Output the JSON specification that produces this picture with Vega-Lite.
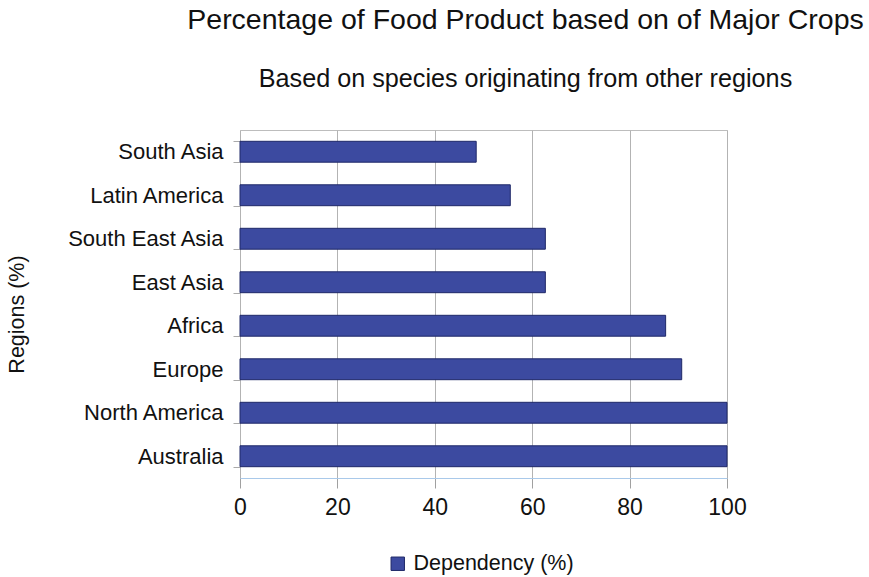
{
  "$schema": "https://vega.github.io/schema/vega-lite/v6.json",
  "width": 487,
  "height": 348,
  "autosize": "none",
  "padding": {"left": 240, "top": 130, "right": 142, "bottom": 99},
  "background": "white",
  "config": {
    "font": "Liberation Sans",
    "view": {"stroke": "#bdbdbd", "strokeWidth": 1}
  },
  "title": {
    "text": "Percentage of Food Product based on of Major Crops",
    "subtitle": "Based on species originating from other regions",
    "anchor": "middle",
    "dx": 42,
    "fontSize": 28.5,
    "fontWeight": "normal",
    "color": "#111",
    "subtitleFontSize": 25.2,
    "subtitleColor": "#111",
    "subtitlePadding": 32,
    "offset": 27
  },
  "data": {
    "values": [
      {"region": "South Asia", "value": 48.5, "series": "Dependency (%)"},
      {"region": "Latin America", "value": 55.5, "series": "Dependency (%)"},
      {"region": "South East Asia", "value": 62.7, "series": "Dependency (%)"},
      {"region": "East Asia", "value": 62.7, "series": "Dependency (%)"},
      {"region": "Africa", "value": 87.4, "series": "Dependency (%)"},
      {"region": "Europe", "value": 90.7, "series": "Dependency (%)"},
      {"region": "North America", "value": 100, "series": "Dependency (%)"},
      {"region": "Australia", "value": 100, "series": "Dependency (%)"}
    ]
  },
  "mark": {"type": "bar", "stroke": "#1f2868", "strokeWidth": 1},
  "encoding": {
    "y": {
      "field": "region",
      "type": "nominal",
      "sort": null,
      "scale": {"paddingInner": 0.52, "paddingOuter": 0.26},
      "axis": {
        "title": "Regions (%)",
        "titleFontSize": 21.5,
        "titleFontWeight": "normal",
        "titleColor": "#111",
        "titleX": -212,
        "titleY": 184,
        "labelFontSize": 22,
        "labelColor": "#111",
        "labelPadding": 10,
        "labelLimit": 300,
        "domain": false,
        "ticks": true,
        "tickBand": "extent",
        "tickSize": 7,
        "tickColor": "#aaaaaa",
        "grid": false
      }
    },
    "x": {
      "field": "value",
      "type": "quantitative",
      "scale": {"domain": [0, 100], "nice": false},
      "axis": {
        "title": null,
        "values": [0, 20, 40, 60, 80, 100],
        "labelFontSize": 23,
        "labelColor": "#111",
        "labelPadding": 8,
        "labelFlush": false,
        "domainColor": "#a9c9ea",
        "tickColor": "#a0a0a0",
        "tickSize": 10,
        "grid": true,
        "gridColor": "#b3b3b3",
        "gridOpacity": 1
      }
    },
    "color": {
      "field": "series",
      "type": "nominal",
      "scale": {"range": ["#3c4aa0"]},
      "legend": {
        "title": null,
        "orient": "none",
        "legendX": 147,
        "legendY": 423,
        "symbolType": "square",
        "symbolSize": 180,
        "symbolStrokeColor": "#1f2868",
        "symbolStrokeWidth": 1,
        "labelFontSize": 21.5,
        "labelLimit": 400,
        "labelColor": "#111",
        "labelOffset": 5
      }
    }
  }
}
